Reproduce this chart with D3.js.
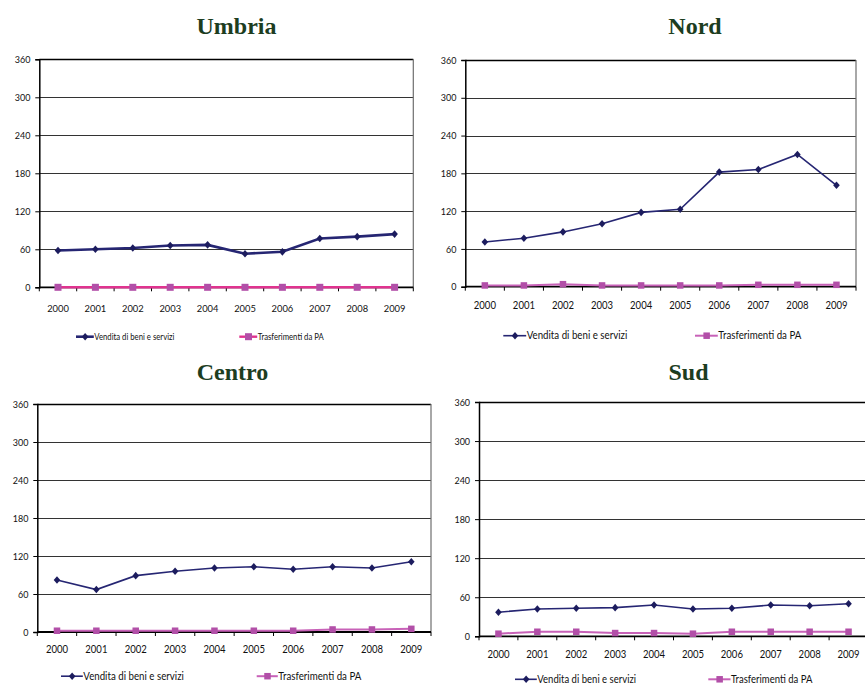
<!DOCTYPE html>
<html>
<head>
<meta charset="utf-8">
<script src="https://cdn.jsdelivr.net/npm/d3@7"></script>
<style>
  html, body { margin: 0; padding: 0; background: #fff; }
  svg { display: block; }
  .ttl { font-family: "Liberation Serif", "Times New Roman", serif; font-weight: bold; font-size: 24px; fill: #1d3d1f; }
  .tick text, .leg text { font-family: Lato, "Noto Sans", sans-serif; fill: #111; }
  .cx { transform: scaleX(0.9); transform-box: fill-box; transform-origin: center; }
  .cy { transform: scaleX(0.9); transform-box: fill-box; transform-origin: right center; }
  .cl { transform: scaleX(0.9); transform-box: fill-box; transform-origin: left center; }
</style>
</head>
<body>
<svg id="chart" width="865" height="685"></svg>
<script>
// Categories and tick values
const years = ['2000', '2001', '2002', '2003', '2004', '2005', '2006', '2007', '2008', '2009'];
const yTicks = [0, 60, 120, 180, 240, 300, 360];
const seriesNames = ['Vendita di beni e servizi', 'Trasferimenti da PA'];

// Series values per area
const venditaUmbria = [58, 60, 62, 66, 67, 53, 56, 77, 80, 84];
const trasfUmbria   = [0, 0, 0, 0, 0, 0, 0, 0, 0, 0];
const venditaNord   = [71, 77, 87, 100, 118, 123, 182, 186, 210, 161];
const trasfNord     = [2, 2, 4, 2, 2, 2, 2, 3, 3, 3];
const venditaCentro = [82, 67, 89, 96, 101, 103, 99, 103, 101, 111];
const trasfCentro   = [2, 2, 2, 2, 2, 2, 2, 4, 4, 5];
const venditaSud    = [37, 42, 43, 44, 48, 42, 43, 48, 47, 50];
const trasfSud      = [4, 7, 7, 5, 5, 4, 7, 7, 7, 7];

// Panel layout: plot box, title, x-label offset, legend placement and line styles
const panels = [
  { title: 'Umbria', vendita: venditaUmbria, trasf: trasfUmbria,
    x0: 39.3, y0: 59.3, w: 374, h: 228, rightBorder: true,
    tx: 236.5, ty: 34, yearDy: 26, yFont: 10, xFont: 10.4,
    legY: 336.7, leg1: [76, 94.3], leg2: [239.3, 257.7], legFont: 8.6,
    vWidth: 2.6, tWidth: 2.4, tColor: '#e0338f', sq: 7 },
  { title: 'Nord', vendita: venditaNord, trasf: trasfNord,
    x0: 465.3, y0: 60, w: 390.7, h: 226.7, rightBorder: true,
    tx: 695, ty: 34, yearDy: 24, yFont: 10, xFont: 10.6,
    legY: 335.7, leg1: [503.3, 526.7], leg2: [695, 718.3], legFont: 10.8,
    vWidth: 1.6, tWidth: 2, tColor: '#c862b8', sq: 6.5 },
  { title: 'Centro', vendita: venditaCentro, trasf: trasfCentro,
    x0: 37.3, y0: 404, w: 393.7, h: 228, rightBorder: true,
    tx: 232.5, ty: 380, yearDy: 22, yFont: 10, xFont: 10.6,
    legY: 676.2, leg1: [61, 83.3], leg2: [256.7, 278.3], legFont: 10.8,
    vWidth: 1.6, tWidth: 2, tColor: '#c862b8', sq: 6.5 },
  { title: 'Sud', vendita: venditaSud, trasf: trasfSud,
    x0: 479, y0: 402, w: 389, h: 234.3, rightBorder: false,
    tx: 688.5, ty: 380, yearDy: 23, yFont: 10, xFont: 10.6,
    legY: 679.3, leg1: [515, 537.3], leg2: [708.3, 731], legFont: 10.6,
    vWidth: 1.6, tWidth: 2, tColor: '#c862b8', sq: 6.5 }
];

const navy = '#262673';
const navyMark = '#1c1c5e';
const pinkMark = '#b24fa8';

const svg = d3.select('#chart');

function diamond(g, cx, cy) {
  g.append('path')
    .attr('d', `M${cx},${cy - 3.8}L${cx + 3.3},${cy}L${cx},${cy + 3.8}L${cx - 3.3},${cy}Z`)
    .attr('fill', navyMark);
}
function square(g, cx, cy, s) {
  g.append('rect')
    .attr('x', cx - s / 2).attr('y', cy - s / 2)
    .attr('width', s).attr('height', s)
    .attr('fill', pinkMark);
}

panels.forEach(p => {
  const g = svg.append('g');
  const x = d3.scaleBand().domain(years).range([p.x0, p.x0 + p.w]);
  const y = d3.scaleLinear().domain([0, 360]).range([p.y0 + p.h, p.y0]);
  const xc = d => x(d) + x.bandwidth() / 2;

  // title
  g.append('text').attr('class', 'ttl')
    .attr('x', p.tx).attr('y', p.ty)
    .attr('text-anchor', 'middle').text(p.title);

  // horizontal gridlines
  g.selectAll('line.grid').data(yTicks.filter(t => t > 0)).join('line')
    .attr('class', 'grid')
    .attr('x1', p.x0).attr('x2', p.x0 + p.w)
    .attr('y1', d => Math.round(y(d)) + 0.5).attr('y2', d => Math.round(y(d)) + 0.5)
    .attr('stroke', d => d === 360 ? '#000' : '#333')
    .attr('stroke-width', d => d === 360 ? 1.5 : 1);

  // right border of the plot area
  if (p.rightBorder) {
    g.append('line')
      .attr('x1', p.x0 + p.w).attr('x2', p.x0 + p.w)
      .attr('y1', p.y0).attr('y2', p.y0 + p.h)
      .attr('stroke', '#6e6e6e').attr('stroke-width', 1.2);
  }

  // y axis
  const yAxis = g.append('g').attr('transform', `translate(${p.x0},0)`)
    .call(d3.axisLeft(y).tickValues(yTicks).tickSize(4).tickPadding(5).tickFormat(d3.format('d')));
  yAxis.select('.domain').attr('stroke', '#000').attr('stroke-width', 1.5);
  yAxis.selectAll('.tick line').attr('stroke', '#000');
  yAxis.selectAll('.tick text').attr('class', 'cy').attr('font-size', p.yFont);

  // x axis: ticks at the category boundaries, labels centred in each band
  const xAxisY = p.y0 + p.h;
  const xAxis = g.append('g').attr('transform', `translate(0,${xAxisY})`)
    .call(d3.axisBottom(x).tickSize(0).tickPadding(p.yearDy - 9));
  xAxis.select('.domain').remove();
  xAxis.selectAll('.tick text').attr('class', 'cx').attr('font-size', p.xFont);
  g.append('line')
    .attr('x1', p.x0).attr('x2', p.x0 + p.w)
    .attr('y1', xAxisY).attr('y2', xAxisY)
    .attr('stroke', '#000').attr('stroke-width', 1.8);
  const bounds = years.map(d => x(d)).concat([p.x0 + p.w]);
  g.selectAll('line.xt').data(bounds).join('line')
    .attr('class', 'xt')
    .attr('x1', d => d).attr('x2', d => d)
    .attr('y1', xAxisY).attr('y2', xAxisY + 4)
    .attr('stroke', '#000');

  // series lines
  const line = d3.line().x((d, i) => xc(years[i])).y(d => y(d));
  g.append('path').datum(p.trasf)
    .attr('d', line).attr('fill', 'none')
    .attr('stroke', p.tColor).attr('stroke-width', p.tWidth);
  p.trasf.forEach((v, i) => square(g, xc(years[i]), y(v), p.sq));
  g.append('path').datum(p.vendita)
    .attr('d', line).attr('fill', 'none')
    .attr('stroke', navy).attr('stroke-width', p.vWidth);
  p.vendita.forEach((v, i) => diamond(g, xc(years[i]), y(v)));

  // legend
  const leg = g.append('g').attr('class', 'leg');
  const [l1a, l1t] = p.leg1;
  const [l2a, l2t] = p.leg2;
  leg.append('line').attr('x1', l1a).attr('x2', l1t - 0.5)
    .attr('y1', p.legY).attr('y2', p.legY)
    .attr('stroke', navy).attr('stroke-width', p.vWidth);
  diamond(leg, (l1a + l1t) / 2, p.legY);
  leg.append('text').attr('class', 'cl')
    .attr('x', l1t).attr('y', p.legY).attr('dy', '0.35em')
    .attr('font-size', p.legFont).text(seriesNames[0]);
  leg.append('line').attr('x1', l2a).attr('x2', l2t - 0.5)
    .attr('y1', p.legY).attr('y2', p.legY)
    .attr('stroke', p.tColor).attr('stroke-width', p.tWidth);
  square(leg, (l2a + l2t) / 2, p.legY, p.sq);
  leg.append('text').attr('class', 'cl')
    .attr('x', l2t).attr('y', p.legY).attr('dy', '0.35em')
    .attr('font-size', p.legFont).text(seriesNames[1]);
});
</script>
</body>
</html>
